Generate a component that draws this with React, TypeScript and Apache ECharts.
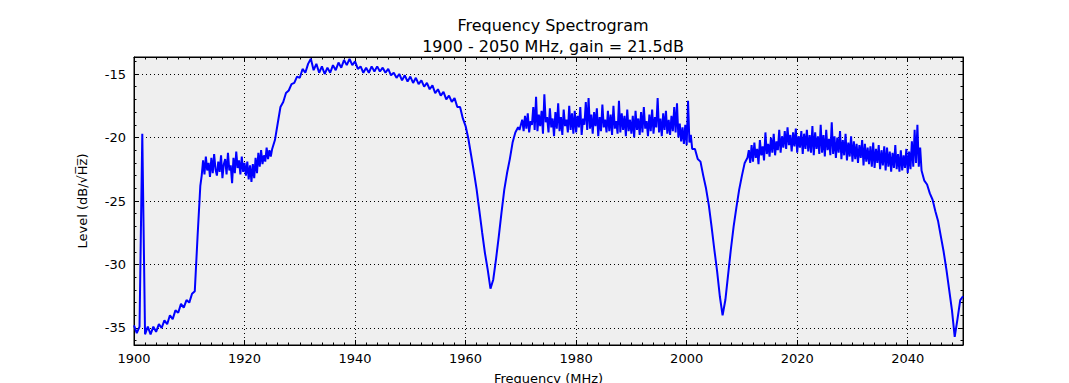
import React, { useEffect, useRef } from "react";
import * as echarts from "echarts";

// Level (dB/√Hz), in segments with their own frequency grid
// 1900.0 – 1912.0 MHz, every 0.5 MHz
const levelLowBand = [
  -34.8, -35.4, -34.9, -19.7, -35.5, -34.9, -35.5, -34.9, -35.3, -34.7,
  -35.0, -34.4, -34.7, -34.0, -34.3, -33.6, -33.8, -33.1, -33.4, -32.8,
  -33.0, -32.3, -32.1, -27.8, -23.8,
];
// 1912.25 – 1925.0 MHz, every 0.25 MHz
const levelFirstPlateau = [
  -23.0, -21.8, -22.9, -21.5, -22.6, -22.0, -23.1, -21.6, -22.8, -21.3,
  -22.5, -23.0, -21.9, -22.7, -21.4, -23.2, -22.1, -21.7, -22.9, -21.2,
  -22.6, -22.2, -23.6, -21.6, -22.8, -21.1, -22.4, -21.8, -22.9, -21.5,
  -22.7, -22.0, -23.0, -21.9, -23.3, -22.2, -23.5, -22.1, -23.2, -21.6,
  -22.8, -21.2, -22.3, -21.0, -22.1, -21.4, -21.9, -20.8, -21.7, -21.0,
  -21.5, -20.9,
];
// 1925.5 – 1969.5 MHz, every 0.5 MHz
const levelUpperBand = [
  -20.2, -18.9, -17.6, -17.2, -16.5, -16.3, -15.8, -15.7, -15.2,
  -15.3, -14.6, -14.9, -14.2, -13.8, -14.7, -14.2, -14.9, -14.4, -15.0,
  -14.5, -14.9, -14.3, -14.7, -14.1, -14.5, -13.9, -14.3, -13.8, -14.3,
  -14.0, -14.6, -14.4, -14.9, -14.5, -14.9, -14.4, -14.8, -14.4, -14.8,
  -14.5, -14.9, -14.6, -15.1, -14.9, -15.3, -15.0, -15.5, -15.1, -15.6,
  -15.2, -15.7, -15.3, -15.8, -15.5, -16.0, -15.7, -16.2, -15.9, -16.5,
  -16.2, -16.7, -16.4, -17.0, -16.7, -17.2, -16.9, -17.6, -17.6, -18.5,
  -19.1, -20.1, -21.4, -22.7, -24.1, -25.8, -27.5, -29.1, -30.4, -31.9,
  -31.2, -29.6, -27.8, -25.9, -24.1, -22.8, -21.7, -20.4, -19.6, -19.2,
];
// 1969.75 – 2001.0 MHz, every 0.25 MHz
const levelMidPlateau = [
  -19.4,
  -19.0, -18.6, -19.5, -18.3, -19.3, -18.1, -19.6, -18.7,
  -19.0, -17.6, -19.4, -16.8, -19.5, -18.2, -19.1, -17.9,
  -19.7, -16.6, -18.8, -18.4, -19.6, -17.7, -19.2, -18.5,
  -19.9, -18.0, -19.3, -17.3, -19.5, -18.4, -19.8, -17.8,
  -19.1, -18.6, -19.6, -17.5, -19.4, -18.1, -19.7, -17.9,
  -19.6, -18.3, -19.2, -17.6, -19.8, -18.5, -19.0, -17.2,
  -19.4, -16.9, -19.3, -18.2, -19.7, -18.0, -19.1, -17.7,
  -19.9, -18.4, -19.5, -17.4, -19.2, -18.6, -19.6, -17.9,
  -19.5, -18.2, -19.8, -17.5, -19.3, -18.7, -19.7, -17.1,
  -19.6, -18.1, -19.4, -18.3, -19.9, -17.8, -19.5, -18.6,
  -19.7, -18.3, -20.0, -17.9, -19.4, -18.5, -19.8, -18.0,
  -19.6, -17.6, -19.3, -18.7, -19.9, -18.2, -19.5, -17.8,
  -19.7, -18.4, -19.2, -16.9, -19.6, -18.5, -19.9, -18.1,
  -19.4, -17.9, -19.7, -18.6, -19.8, -18.3, -19.5, -17.6,
  -19.6, -17.3, -20.0, -18.9, -20.3, -19.2, -20.5, -19.0,
  -20.6, -17.1, -20.4, -19.8,
  -20.9,
];
// 2001.5 – 2011.0 MHz, every 0.5 MHz
const levelSecondNotch = [
  -20.9, -21.7, -21.9, -23.0, -24.0, -25.3, -27.0, -28.8, -30.5, -32.5,
  -34.0, -32.8, -30.8, -28.8, -27.0, -25.5, -24.1, -23.0, -22.0, -21.6,
];
// 2011.25 – 2042.5 MHz, every 0.25 MHz
const levelHighPlateau = [
  -21.0, -22.0, -20.6,
  -21.9, -20.4, -21.6, -20.9, -22.1, -20.2, -21.4, -20.7,
  -21.8, -19.6, -21.3, -20.5, -21.5, -20.0, -21.2, -19.7,
  -21.4, -20.3, -21.0, -19.4, -21.2, -19.9, -20.8, -19.5,
  -20.9, -19.2, -20.6, -19.8, -21.1, -19.6, -20.7, -19.3,
  -21.2, -19.9, -20.8, -19.5, -21.3, -19.7, -20.9, -19.4,
  -21.1, -19.8, -21.2, -19.1, -21.4, -19.6, -20.9, -19.9,
  -21.3, -19.0, -21.2, -19.8, -21.5, -19.4, -21.0, -20.1,
  -21.4, -18.8, -21.3, -19.9, -21.6, -20.0, -21.2, -19.5,
  -21.7, -20.2, -21.4, -19.7, -21.8, -20.4, -21.5, -19.9,
  -21.9, -20.3, -21.7, -20.5, -22.0, -20.6, -21.6, -20.2,
  -22.2, -20.5, -21.9, -20.8, -22.1, -20.7, -22.3, -20.4,
  -22.4, -20.9, -22.0, -20.6, -22.5, -21.0, -22.2, -20.7,
  -22.6, -20.8, -22.3, -21.1, -22.7, -21.2, -22.4, -20.6,
  -22.5, -21.3, -22.7, -21.0, -22.6, -21.4, -22.4, -20.9,
  -22.8, -21.1, -22.5, -20.3, -22.3, -19.4, -22.0, -19.0,
  -22.3, -20.8, -22.6,
];
// 2043.0 – 2050.0 MHz, every 0.5 MHz
const levelEdge = [
  -23.4, -23.7, -24.4, -24.9, -25.8, -26.6, -27.8, -29.0, -30.4, -32.0,
  -33.6, -35.7, -34.3, -32.8, -32.5,
];

// [first frequency (MHz), step (MHz), values]
const segments: [number, number, number[]][] = [
  [1900, 0.5, levelLowBand],
  [1912.25, 0.25, levelFirstPlateau],
  [1925.5, 0.5, levelUpperBand],
  [1969.75, 0.25, levelMidPlateau],
  [2001.5, 0.5, levelSecondNotch],
  [2011.25, 0.25, levelHighPlateau],
  [2043, 0.5, levelEdge],
];

const xMin = 1900;
const xMax = 2050;
const yMin = -36.34;
const yMax = -13.66;
const xMajorTicks = [1900, 1920, 1940, 1960, 1980, 2000, 2020, 2040];
const xMinorTicks = Array.from({ length: 76 }, (_, i) => 1900 + 2 * i);
const yMajorTicks = [-35, -30, -25, -20, -15];
const yMinorTicks = Array.from({ length: 23 }, (_, i) => -36 + i);

const FONT = "DejaVu Sans";

export default function App() {
  const ref = useRef<HTMLDivElement>(null);
  useEffect(() => {
    if (!ref.current) return;
    const chart = echarts.init(ref.current, null, { renderer: "svg" });
    const data: number[][] = [];
    segments.forEach(([start, step, vals]) => {
      vals.forEach((v, i) => data.push([start + i * step, v]));
    });

    const tickStyle = { color: "#000", width: 1 };
    const mkX = (pos: string, ticks: number[], len: number, main: boolean) => ({
      type: "value",
      position: pos,
      min: xMin,
      max: xMax,
      axisLine: { show: main, lineStyle: { color: "#000", width: 1 } },
      axisTick: { show: true, inside: true, length: len, customValues: ticks, lineStyle: tickStyle },
      axisLabel: main && pos === "bottom"
        ? {
            show: true,
            customValues: xMajorTicks,
            color: "#000",
            fontSize: 13,
            fontFamily: FONT,
            margin: 7,
            formatter: (v: number) => String(v),
          }
        : { show: false },
      splitLine: main && pos === "bottom"
        ? { show: true, lineStyle: { color: "#000", width: 1, type: [1, 3] } }
        : { show: false },
      name: main && pos === "bottom" ? "Frequency (MHz)" : "",
      nameLocation: "middle",
      nameGap: 27,
      nameTextStyle: { color: "#000", fontSize: 13, fontFamily: FONT, verticalAlign: "top" },
    });
    const mkY = (pos: string, ticks: number[], len: number, main: boolean) => ({
      type: "value",
      position: pos,
      min: yMin,
      max: yMax,
      axisLine: { show: main, lineStyle: { color: "#000", width: 1 } },
      axisTick: { show: true, inside: true, length: len, customValues: ticks, lineStyle: tickStyle },
      axisLabel: main && pos === "left"
        ? {
            show: true,
            customValues: yMajorTicks,
            color: "#000",
            fontSize: 13,
            fontFamily: FONT,
            margin: 8,
            formatter: (v: number) => String(v),
          }
        : { show: false },
      splitLine: main && pos === "left"
        ? { show: true, lineStyle: { color: "#000", width: 1, type: [1, 3] } }
        : { show: false },
      name: main && pos === "left" ? "Level (dB/\u221AH\u0305z\u0305)" : "",
      nameLocation: "middle",
      nameGap: 45,
      nameTextStyle: { color: "#000", fontSize: 13, fontFamily: FONT },
    });

    chart.setOption({
      animation: false,
      backgroundColor: "#ffffff",
      title: {
        text: "Frequency Spectrogram\n1900 - 2050 MHz, gain = 21.5dB",
        left: 548,
        top: 10,
        textAlign: "center",
        textStyle: { color: "#000", fontSize: 16, fontWeight: "normal", fontFamily: FONT, lineHeight: 21 },
      },
      grid: {
        left: 134,
        right: 106,
        top: 57,
        bottom: 38,
        show: true,
        backgroundColor: "#efefef",
        borderColor: "#000",
        borderWidth: 1,
        containLabel: false,
        outerBoundsMode: "none",
      },
      xAxis: [
        mkX("bottom", xMajorTicks, 5, true),
        mkX("top", xMajorTicks, 5, true),
        mkX("bottom", xMinorTicks, 2.5, false),
        mkX("top", xMinorTicks, 2.5, false),
      ],
      yAxis: [
        mkY("left", yMajorTicks, 5, true),
        mkY("right", yMajorTicks, 5, true),
        mkY("left", yMinorTicks, 2.5, false),
        mkY("right", yMinorTicks, 2.5, false),
      ],
      series: [
        {
          type: "line",
          xAxisIndex: 0,
          yAxisIndex: 0,
          data,
          showSymbol: false,
          symbol: "none",
          lineStyle: { color: "#0000ff", width: 2 },
          itemStyle: { color: "#0000ff" },
          z: 3,
        },
      ],
    });
    return () => chart.dispose();
  }, []);

  return (
    <div
      ref={ref}
      style={{ position: "absolute", left: 0, top: 0, width: 1069, height: 383 }}
    />
  );
}
